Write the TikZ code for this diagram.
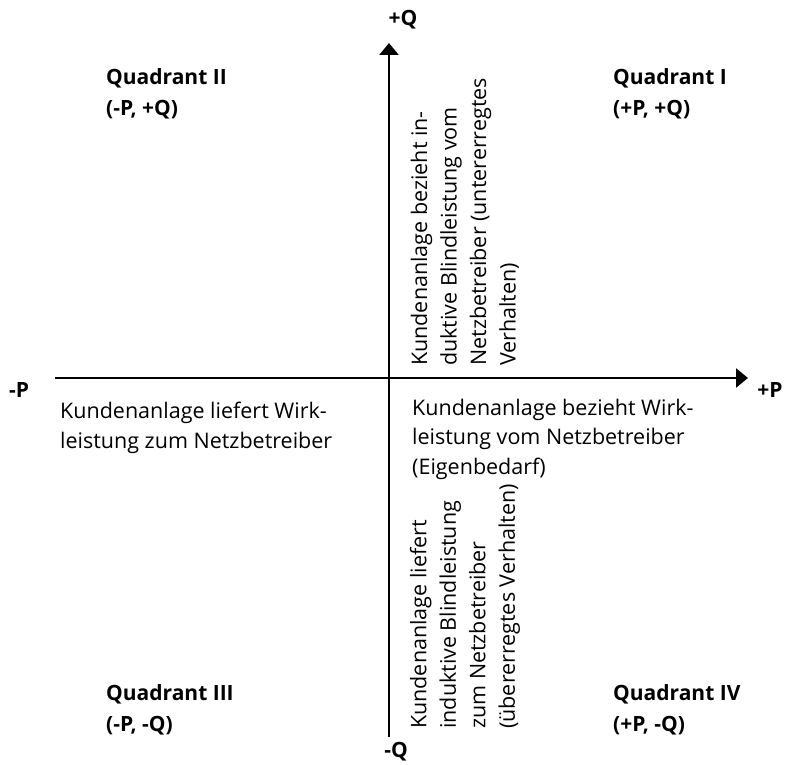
\documentclass[tikz,border=0pt]{standalone}
\usepackage{fontspec}
\setmainfont{Open Sans}
\usetikzlibrary{arrows.meta}

\begin{document}
\begin{tikzpicture}[x=1pt,y=-1pt,
  axis/.style={line width=2.5pt,-{Triangle[width=19pt,length=12pt]}},
  axislabel/.style={font=\bfseries\fontsize{21}{24}\selectfont,inner sep=0pt},
  quadlabel/.style={font=\bfseries\fontsize{21}{31}\selectfont,align=left,anchor=west,inner sep=0pt},
  desc/.style={font=\fontsize{21.5}{29.5}\selectfont,align=left,anchor=west,inner sep=0pt}]
\useasboundingbox (0,0) rectangle (785,765);
\coordinate (W) at (55,378);
\coordinate (E) at (748,378);
\coordinate (S) at (389,737);
\coordinate (N) at (389,43);

\draw[axis] (W) to (E);
\draw[axis] (S) to (N);
\node[axislabel] (pQ) at (403,20) {+Q};
\node[axislabel] (mQ) at (396,752) {-Q};
\node[axislabel] (mP) at (19,390) {-P};
\node[axislabel] (pP) at (770,390) {+P};

% quadrants
\node[quadlabel] (q2) at (106,94) {Quadrant II\\(-P, +Q)};
\node[quadlabel] (q1) at (613,94) {Quadrant I\\(+P, +Q)};
\node[quadlabel] (q3) at (106,710) {Quadrant III\\(-P, -Q)};
\node[quadlabel] (q4) at (613,710) {Quadrant IV\\(+P, -Q)};

% descriptions
\node[desc] (pLeft) at (60,428) {Kundenanlage liefert Wirk-\\leistung zum Netzbetreiber};
\node[desc] (pRight) at (412,439) {Kundenanlage bezieht Wirk-\\leistung vom Netzbetreiber\\(Eigenbedarf)};
\node[desc,rotate=90] (qUp) at (465,366) {Kundenanlage bezieht in-\\duktive Blindleistung vom\\Netzbetreiber (untererregtes\\Verhalten)};
\node[desc,rotate=90] (qDown) at (465,729) {Kundenanlage liefert\\induktive Blindleistung\\zum Netzbetreiber\\(übererregtes Verhalten)};
\end{tikzpicture}
\end{document}
